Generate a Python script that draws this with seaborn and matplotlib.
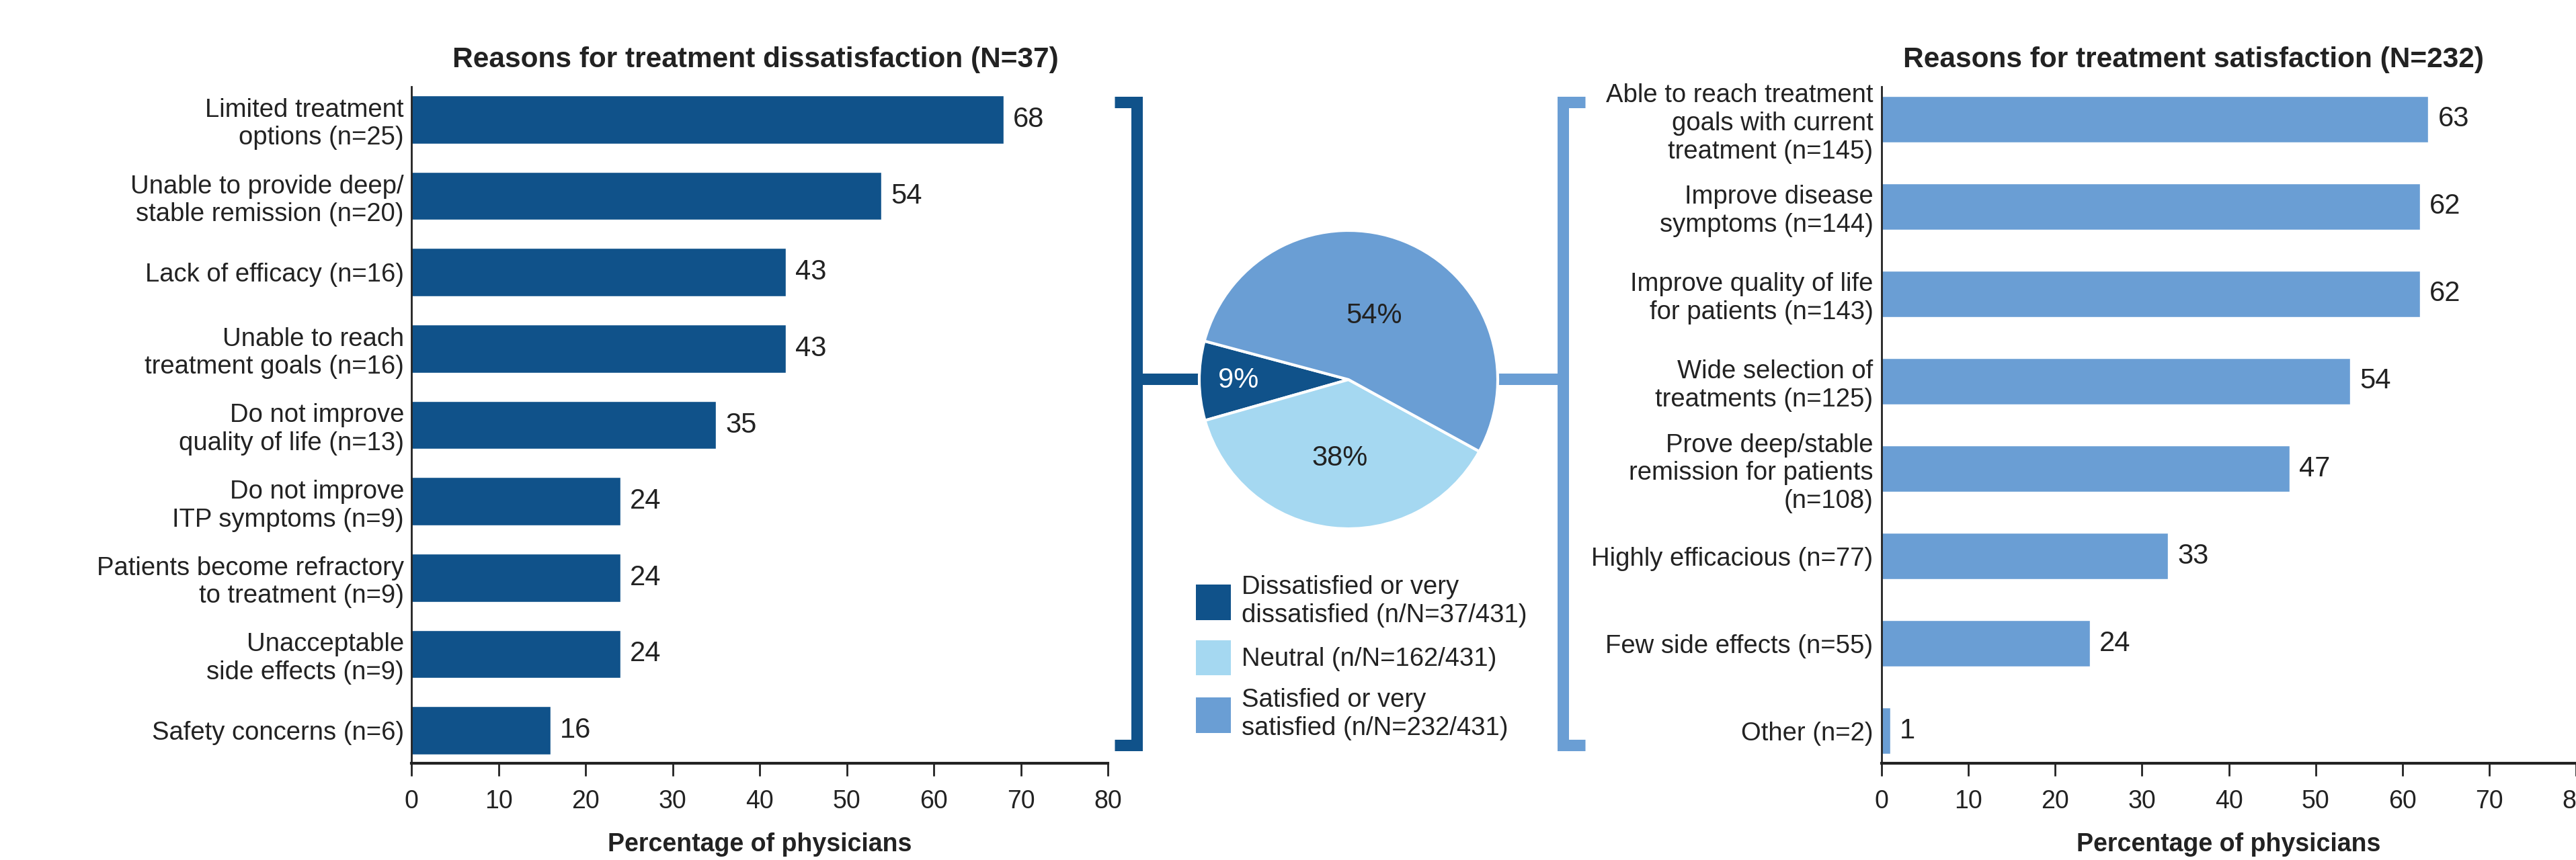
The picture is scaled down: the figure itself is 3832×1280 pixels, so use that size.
import numpy as np
import pandas as pd
import matplotlib.pyplot as plt
import seaborn as sns
from matplotlib.patches import Patch

# data
dis_labels = ['Limited treatment\noptions (n=25)',
              'Unable to provide deep/\nstable remission (n=20)',
              'Lack of efficacy (n=16)',
              'Unable to reach\ntreatment goals (n=16)',
              'Do not improve\nquality of life (n=13)',
              'Do not improve\nITP symptoms (n=9)',
              'Patients become refractory\nto treatment (n=9)',
              'Unacceptable\nside effects (n=9)',
              'Safety concerns (n=6)']
dis_values = [68, 54, 43, 43, 35, 24, 24, 24, 16]

sat_labels = ['Able to reach treatment\ngoals with current\ntreatment (n=145)',
              'Improve disease\nsymptoms (n=144)',
              'Improve quality of life\nfor patients (n=143)',
              'Wide selection of\ntreatments (n=125)',
              'Prove deep/stable\nremission for patients\n(n=108)',
              'Highly efficacious (n=77)',
              'Few side effects (n=55)',
              'Other (n=2)']
sat_values = [63, 62, 62, 54, 47, 33, 24, 1]

pie_counts = [37, 162, 232]
pie_names = ['Dissatisfied or very\ndissatisfied (n/N=37/431)',
             'Neutral (n/N=162/431)',
             'Satisfied or very\nsatisfied (n/N=232/431)']

DARK = '#10528A'
MED = '#6A9ED4'
LIGHT = '#A5D8F1'
TXT = '#222222'

sns.set_theme(style='white')
plt.rcParams['font.family'] = ['Liberation Sans', 'DejaVu Sans']
FS = 27.5

W, H = 3832, 1280
fig = plt.figure(figsize=(W / 100, H / 100), dpi=100)

# overlay for the brackets
ov = fig.add_axes([0, 0, 1, 1], zorder=0)
ov.set_xlim(0, W)
ov.set_ylim(H, 0)
ov.axis('off')
lw = 17 * 0.72
ov.plot([1658, 1691.5, 1691.5, 1658], [151.5, 151.5, 1108.5, 1108.5], color=DARK, lw=lw,
        solid_joinstyle='miter', solid_capstyle='butt')
ov.plot([1691.5, 1800], [564, 564], color=DARK, lw=lw, solid_capstyle='butt')
ov.plot([2358, 2325, 2325, 2358], [151.5, 151.5, 1108.5, 1108.5], color=MED, lw=lw,
        solid_joinstyle='miter', solid_capstyle='butt')
ov.plot([2210, 2325], [564, 564], color=MED, lw=lw, solid_capstyle='butt')


def style_bars(ax, labels, values, color, width, ylim, title, title_x, ypad):
    df = pd.DataFrame({'reason': labels, 'pct': values})
    sns.barplot(data=df, y='reason', x='pct', orient='h', color=color, width=width,
                saturation=1, ax=ax)
    ax.bar_label(ax.containers[0], padding=10, fontsize=30, color=TXT)
    ax.set_xlim(0, 80)
    ax.set_xticks(range(0, 81, 10))
    ax.set_ylim(*ylim)
    ax.set_ylabel('')
    ax.set_xlabel('Percentage of physicians', fontsize=27, fontweight='bold', color=TXT, labelpad=20)
    ax.set_title(title, fontsize=30.5, fontweight='bold', color=TXT, pad=21, x=title_x)
    ax.tick_params(axis='y', length=0, pad=ypad, labelsize=FS, labelcolor=TXT)
    ax.tick_params(axis='x', length=14, width=2, pad=14, labelsize=27, labelcolor=TXT,
                   color=TXT, direction='out', bottom=True)
    for s in ['top', 'right']:
        ax.spines[s].set_visible(False)
    ax.spines['left'].set_linewidth(2)
    ax.spines['left'].set_color(TXT)
    ax.spines['bottom'].set_linewidth(3)
    ax.spines['bottom'].set_color(TXT)
    ax.grid(False)


ax1 = fig.add_axes([612 / W, 1 - 1136 / H, 1036 / W, 1007 / H], zorder=2)
style_bars(ax1, dis_labels, dis_values, DARK, 0.63, (8.43, -0.43),
           'Reasons for treatment dissatisfaction (N=37)', 0.494, 8)

ax2 = fig.add_axes([2799 / W, 1 - 1136 / H, 1033 / W, 1007 / H], zorder=2)
style_bars(ax2, sat_labels, sat_values, MED, 0.53, (7.37, -0.37),
           'Reasons for treatment satisfaction (N=232)', 0.449, 9)

# pie in the middle
R = 222
axp = fig.add_axes([(2006 - R) / W, 1 - (565 + R) / H, 2 * R / W, 2 * R / H], zorder=3)
wedges, texts, autotexts = axp.pie(pie_counts, colors=[DARK, LIGHT, MED], startangle=165,
                                   counterclock=True, autopct='%.0f%%',
                                   wedgeprops=dict(edgecolor='white', linewidth=3),
                                   textprops=dict(fontsize=30, color=TXT))
axp.set_xlim(-1, 1)
axp.set_ylim(-1, 1)
axp.set_aspect('equal')
dists = [0.74, 0.53, 0.46]
for w, t, d in zip(wedges, autotexts, dists):
    th = np.deg2rad((w.theta1 + w.theta2) / 2)
    t.set_position((d * np.cos(th), d * np.sin(th)))
autotexts[0].set_color('white')

handles = [Patch(facecolor=c, edgecolor='none') for c in [DARK, LIGHT, MED]]
fig.legend(handles, pie_names, loc='upper left', bbox_to_anchor=(1779 / W, 1 - 856 / H),
           frameon=False, fontsize=FS, handlelength=1.37, handleheight=1.73,
           handletextpad=0.4, labelspacing=0.5, borderpad=0, borderaxespad=0,
           labelcolor=TXT)

fig.savefig('out.png', dpi=100)
